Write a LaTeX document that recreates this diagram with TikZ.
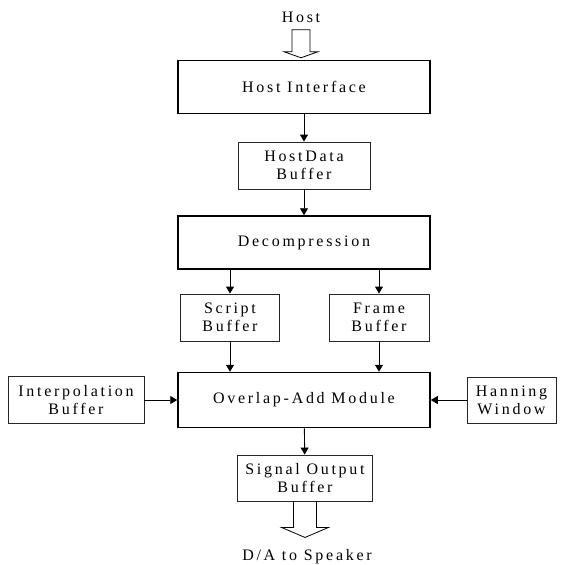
\documentclass[tikz,border=0pt]{standalone}
\usepackage{fontspec}
\setmainfont{Liberation Serif}[LetterSpace=17]
\usetikzlibrary{arrows.meta}
\begin{document}
\begin{tikzpicture}[x=1pt, y=-1pt,
    every node/.style={font=\fontsize{16}{18}\selectfont, align=center, inner sep=0pt},
    bigbox/.style={draw, line width=1.5pt, minimum width=252, minimum height=53},
    bufbox/.style={draw=black!85, line width=0.9pt, minimum height=47},
    arr/.style={line width=0.9pt, -{Triangle[width=8pt,length=7pt]}},
    hollow/.style={line width=0.8pt}]
    \useasboundingbox (0,0) rectangle (563,565);

    \node (host) at (301,17) {Host};
    \node[bigbox] (hostif) at (304,87) {Host Interface};
    \node[bufbox, minimum width=132] (hostdata) at (304,165.5) {HostData\\Buffer};
    \node[bigbox] (decomp) at (304,242.5) {Decompression};
    \node[bufbox, minimum width=99] (script) at (230,317.5) {Script\\Buffer};
    \node[bufbox, minimum width=100] (frame) at (379,317.5) {Frame\\Buffer};
    \node[bigbox, minimum height=55] (ola) at (304,400) {Overlap-Add Module};
    \node[bufbox, minimum width=136] (interp) at (76,400) {Interpolation\\Buffer};
    \node[bufbox, minimum width=89, minimum height=46] (hanning) at (511.5,400) {Hanning\\Window};
    \node[bufbox, minimum width=135, minimum height=46] (sigout) at (305,478) {Signal Output\\Buffer};
    \node (speaker) at (307,557) {D/A to Speaker};

    \path (hostif) edge[arr] (hostdata);
    \path (hostdata) edge[arr] (decomp);
    \path (decomp.south -| script) edge[arr] (script);
    \path (decomp.south -| frame) edge[arr] (frame);
    \path (script) edge[arr] (script |- ola.north);
    \path (frame) edge[arr] (frame |- ola.north);
    \path (interp) edge[arr] (ola);
    \path (hanning) edge[arr] (ola);
    \path (ola) edge[arr] (sigout);

    \draw[hollow] ([yshift=2pt]hostif.north -| host) -- ++(-17,-6) -- ++(8,0) -- ++(0,-22)
        -- ++(18,0) -- ++(0,22) -- ++(8,0) -- cycle;
    \draw[hollow] ([xshift=-11.5pt]sigout.south) -- ++(0,26) -- ++(-12,0) -- ++(23.5,10)
        -- ++(23.5,-10) -- ++(-12,0) -- ++(0,-26);
\end{tikzpicture}
\end{document}
